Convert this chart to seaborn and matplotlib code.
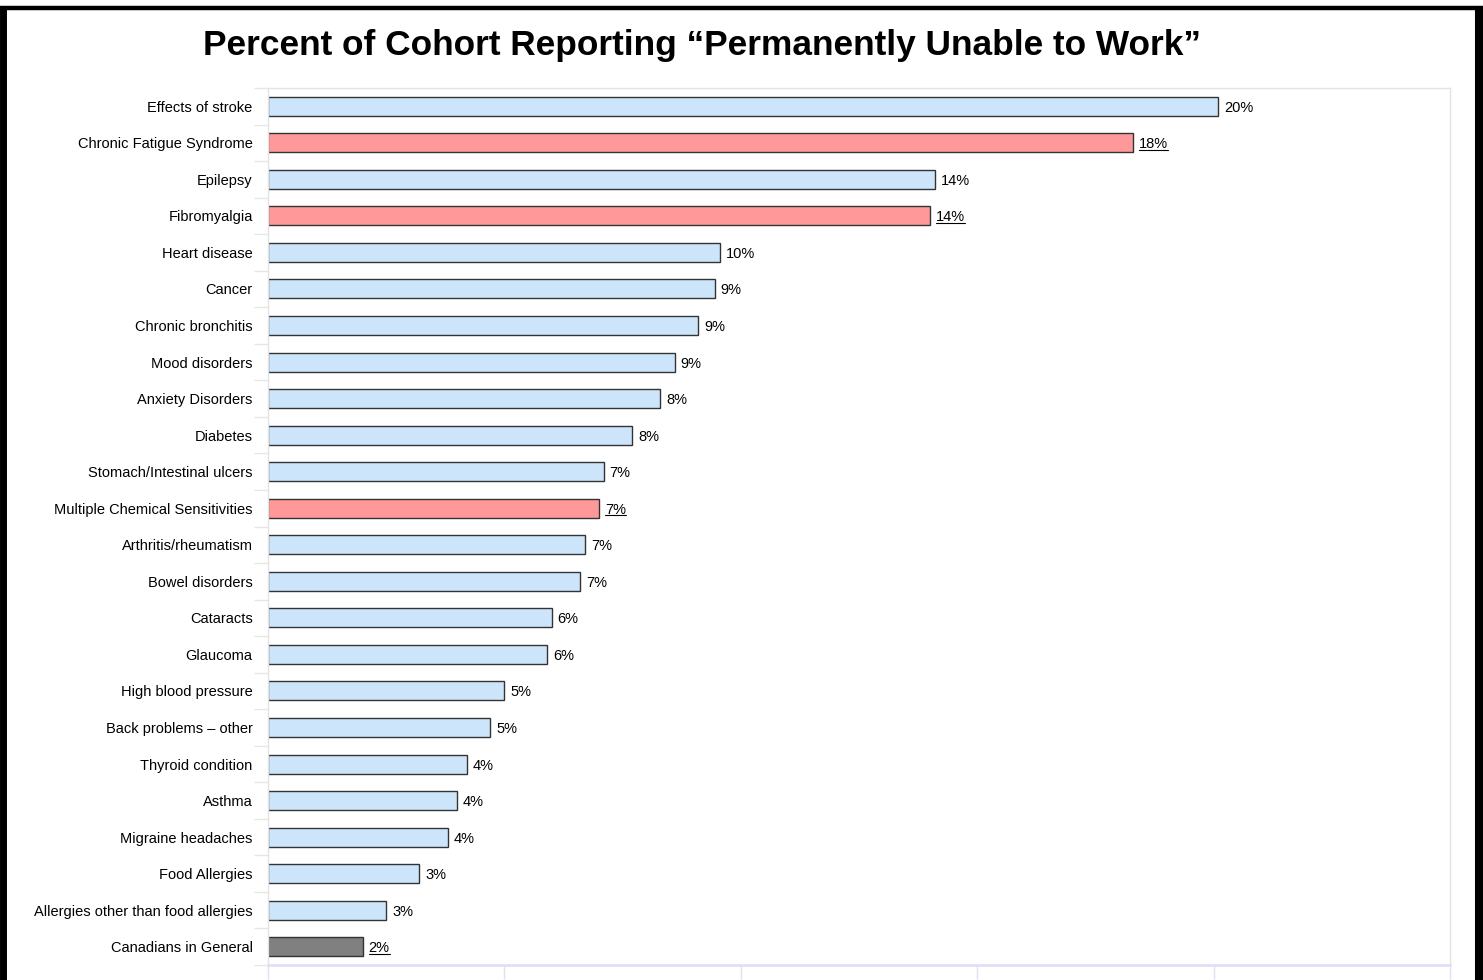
import matplotlib
matplotlib.use("Agg")
import matplotlib.pyplot as plt
import seaborn as sns
import pandas as pd
from matplotlib.lines import Line2D

categories = [
    "Effects of stroke", "Chronic Fatigue Syndrome", "Epilepsy", "Fibromyalgia",
    "Heart disease", "Cancer", "Chronic bronchitis", "Mood disorders",
    "Anxiety Disorders", "Diabetes", "Stomach/Intestinal ulcers",
    "Multiple Chemical Sensitivities", "Arthritis/rheumatism", "Bowel disorders",
    "Cataracts", "Glaucoma", "High blood pressure", "Back problems \u2013 other",
    "Thyroid condition", "Asthma", "Migraine headaches", "Food Allergies",
    "Allergies other than food allergies", "Canadians in General",
]
values = [20.1, 18.3, 14.1, 14.0, 9.55, 9.45, 9.1, 8.6, 8.3, 7.7, 7.1, 7.0,
          6.7, 6.6, 6.0, 5.9, 5.0, 4.7, 4.2, 4.0, 3.8, 3.2, 2.5, 2.0]
value_labels = ["20%", "18%", "14%", "14%", "10%", "9%", "9%", "9%", "8%", "8%",
                "7%", "7%", "7%", "7%", "6%", "6%", "5%", "5%", "4%", "4%",
                "4%", "3%", "3%", "2%"]
groups = ["other", "highlight", "other", "highlight", "other", "other", "other",
          "other", "other", "other", "other", "highlight", "other", "other",
          "other", "other", "other", "other", "other", "other", "other",
          "other", "other", "general"]
palette = {"other": "#cce5fb", "highlight": "#ff9999", "general": "#808080"}

df = pd.DataFrame({"category": categories, "value": values, "group": groups})

sns.set_style("white")
plt.rcParams["font.family"] = ["Liberation Sans", "DejaVu Sans"]
plt.rcParams["text.color"] = "black"
plt.rcParams["ytick.labelcolor"] = "black"

W, H = 1483, 980
fig = plt.figure(figsize=(W / 100, H / 100), dpi=100)
ax = fig.add_axes([268 / W, 1 - 965 / H, (1450 - 268) / W, (965 - 88) / H])

sns.barplot(data=df, y="category", x="value", hue="group", palette=palette,
            dodge=False, legend=False, width=0.52, edgecolor="#333333",
            linewidth=1.0, saturation=1, ax=ax, orient="h")

ax.set_xlim(0, 25)
ax.set_ylim(len(categories) - 0.5, -0.5)
ax.set_xlabel("")
ax.set_ylabel("")
ax.set_xticks([0, 5, 10, 15, 20, 25])
ax.set_xticklabels([])
ax.tick_params(axis="x", which="major", length=10, width=1, color="#e0e0f4",
               direction="out", bottom=True)
ax.tick_params(axis="y", which="major", length=0, pad=11, labelsize=10.5,
               labelcolor="black")
ax.set_yticks([i - 0.5 for i in range(len(categories) + 1)], minor=True)
ax.tick_params(axis="y", which="minor", length=10, width=1, color="#e6e6e6",
               left=True)
for lab in ax.get_yticklabels():
    lab.set_color("black")
for s in ["top", "right", "left"]:
    ax.spines[s].set_color("#e3e3e3")
    ax.spines[s].set_linewidth(1)
ax.spines["bottom"].set_color("#e0e0f4")
ax.spines["bottom"].set_linewidth(2)
ax.grid(False)

underline = {"highlight", "general"}
texts = []
for i, (v, lab, g) in enumerate(zip(values, value_labels, groups)):
    t = ax.annotate(lab, xy=(v, i), xytext=(6, 0), textcoords="offset pixels",
                    ha="left", va="center_baseline", fontsize=10.5, color="black")
    texts.append((t, g))

fig.text(702 / W, 1 - 46 / H, "Percent of Cohort Reporting \u201cPermanently Unable to Work\u201d",
         ha="center", va="center", fontsize=25.4, fontweight="bold", color="black")

fig.canvas.draw()
renderer = fig.canvas.get_renderer()
for t, g in texts:
    if g in underline:
        bb = t.get_window_extent(renderer)
        y = bb.y0 + 1.5
        fig.add_artist(Line2D([bb.x0 / W, bb.x1 / W], [y / H, y / H],
                              color="black", linewidth=0.8,
                              transform=fig.transFigure))

# figure border
fig.add_artist(Line2D([3 / W, 3 / W], [0, 1 - 8 / H], color="black", linewidth=5,
                      transform=fig.transFigure, solid_capstyle="butt"))
fig.add_artist(Line2D([0, 1], [1 - 8 / H, 1 - 8 / H], color="black",
                      linewidth=3.2, transform=fig.transFigure, solid_capstyle="butt"))
fig.add_artist(Line2D([1479 / W, 1479 / W], [0, 1 - 6 / H], color="black", linewidth=5.8,
                      transform=fig.transFigure, solid_capstyle="butt"))

fig.savefig("out.png", dpi=100)
